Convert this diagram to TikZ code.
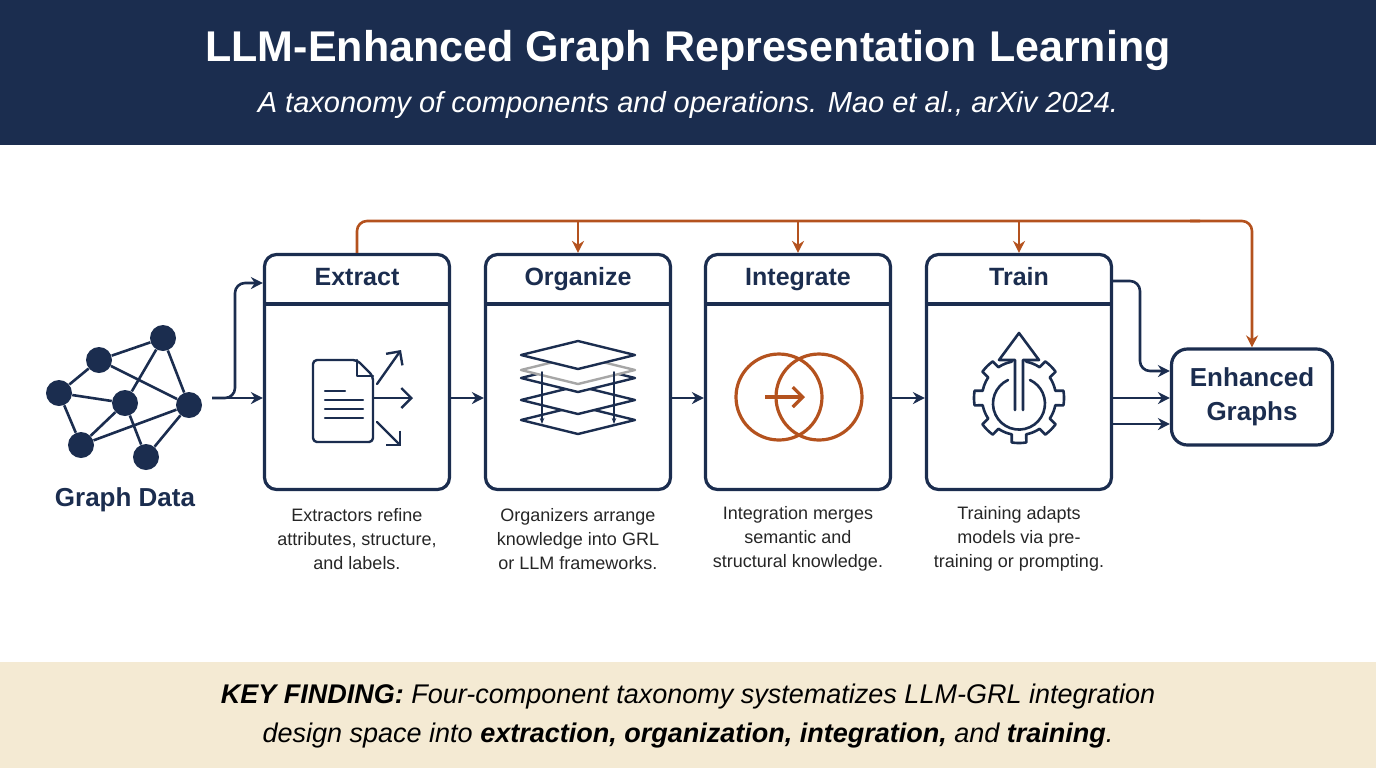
\documentclass[tikz,border=0pt]{standalone}
\usepackage{fontspec}
\setmainfont{Liberation Sans}
\usetikzlibrary{arrows.meta}
\usetikzlibrary{positioning}
\definecolor{navy}{HTML}{1B2D4F}
\definecolor{rust}{HTML}{B4521E}
\definecolor{sand}{HTML}{F4EAD3}
\tikzstyle{stage} = [draw=navy, line width=1.6pt, rounded corners=6pt,
 minimum width=92.5pt, minimum height=117.5pt]
\tikzstyle{header} = [text=navy, font=\fontsize{12.5}{14}\selectfont\bfseries, text height=9pt, text depth=2.5pt]
\tikzstyle{caption} = [text=black!85, align=center, font=\fontsize{9}{12}\selectfont]
\tikzstyle{arrow} = [navy, line width=1.3pt, -{Stealth[length=6pt,width=6pt]}, rounded corners=5pt]
\tikzstyle{feed} = [rust, line width=1.3pt, -{Stealth[length=6pt,width=6pt]}, rounded corners=5pt]
\tikzstyle{icon} = [navy, line width=1.2pt, line join=round, line cap=round]
\tikzstyle{dot} = [circle, fill=navy, inner sep=0pt, minimum size=13pt]

\begin{document}
\begin{tikzpicture}[x=0.5pt, y=-0.5pt]
 	\useasboundingbox (0,0) rectangle (1376,768);
 	
 	% title and key finding bands
 	\fill[navy] (0,0) rectangle (1376,145);
 	\fill[sand] (0,662) rectangle (1376,768);
 	\node [text=white, font=\fontsize{21.5}{24}\selectfont\bfseries] (title) at (688,50) {LLM-Enhanced Graph Representation Learning};
 	\node [text=white, font=\fontsize{14.5}{16}\selectfont\itshape] (sub) at (688,105) {A taxonomy of components and operations. Mao et al., arXiv 2024.};
 	\node [align=center, font=\fontsize{13.5}{19.5}\selectfont\itshape] (key) at (688,716) {\textbf{KEY FINDING:} Four-component taxonomy systematizes LLM-GRL integration\\design space into \textbf{extraction, organization, integration,} and \textbf{training}.};
 	
 	% graph data
 	\foreach \n/\x/\y in {a/59/393, b/99/360, c/163/338, d/125/403, e/189/405, f/81/445, g/146/457}
 	\node [dot] (\n) at (\x,\y) {};
 	\draw [navy, line width=1.3pt] (a) -- (b) (a) -- (f) (a) -- (d) (b) -- (c) (b) -- (e)
 	(c) -- (d) (c) -- (e) (d) -- (f) (d) -- (g) (f) -- (e) (e) -- (g);
 	\node [text=navy, font=\fontsize{13}{15}\selectfont\bfseries] (gd) at (125,500) {Graph Data};
 	
 	% stages
 	\foreach \n/\x/\t in {ext/357/Extract, org/578/Organize, int/798/Integrate, trn/1019/Train} {
 		\node [stage] (\n) at (\x,372) {};
 		\draw [navy, line width=1.6pt] ([yshift=-25.5pt]\n.north west) -- ([yshift=-25.5pt]\n.north east);
 		\node [header] at ([yshift=-13pt]\n.north) {\t};
 	}
 	\node [caption] at (357,539) {Extractors refine\\attributes, structure,\\and labels.};
 	\node [caption] at (578,539) {Organizers arrange\\knowledge into GRL\\or LLM frameworks.};
 	\node [caption] at (798,539) {Integration merges\\semantic and\\structural knowledge.};
 	\node [caption] at (1019,539) {Training adapts\\models via pre-\\training or prompting.};
 	
 	\node [stage, minimum width=80.5pt, minimum height=48pt, rounded corners=8pt, align=center,
 	text=navy, font=\fontsize{13}{17}\selectfont\bfseries] (out) at (1252,397) {Enhanced\\Graphs};
 	
 	% flow arrows
 	\coordinate (src) at (212,398);
 	\draw [arrow] (src) -- (ext.west |- src);
 	\draw [arrow] (src) -| (235,283) -- (ext.west |- 0,283);
 	\draw [arrow] (ext.east |- src) -- (org.west |- src);
 	\draw [arrow] (org.east |- src) -- (int.west |- src);
 	\draw [arrow] (int.east |- src) -- (trn.west |- src);
 	\draw [arrow] (trn.east |- 0,281) -| (1140,371) -- (out.west |- 0,371);
 	\draw [arrow] (trn.east |- src) -- (out.west |- src);
 	\draw [arrow] (trn.east |- 0,424) -- (out.west |- 0,424);
 	
 	% feedback line
 	\draw [feed, -] (ext.north) |- (1200,221);
 	\draw [feed] (1190,221) -| (out.north);
 	\foreach \n in {org, int, trn}
 	\draw [feed] (\n.north |- 0,221) -- (\n.north);
 	
 	% extract icon
 	\draw [icon, rounded corners=2pt] (330,360) -- (357,360) -- (373,376) -- (373,442) -- (313,442) -- (313,360) -- cycle;
 	\draw [icon] (357,360) -- (357,376) -- (373,376);
 	\draw [icon] (325,391) -- (345,391) (325,400) -- (363,400) (325,409) -- (363,409) (325,418) -- (363,418);
 	\draw [icon, -{Straight Barb[length=5pt]}] (377,384) -- (401,350);
 	\draw [icon, -{Straight Barb[length=5pt]}] (373,398) -- (413,398);
 	\draw [icon, -{Straight Barb[length=5pt]}] (377,422) -- (401,446);
 	
 	% organize icon
 	\foreach \y in {420,400,378}
 	\draw [icon, fill=white] (521,\y) -- (578,\y-14) -- (635,\y) -- (578,\y+14) -- cycle;
 	\draw [icon, fill=white, draw=black!35] (521,370) -- (578,356) -- (635,370) -- (578,384) -- cycle;
 	\draw [icon, fill=white] (521,355) -- (578,341) -- (635,355) -- (578,369) -- cycle;
 	\foreach \x in {542,614}
 	\draw [icon, line width=0.8pt, -{Stealth[length=3pt]}] (\x,372) -- (\x,424);
 	
 	% integrate icon
 	\draw [rust, line width=1.6pt] (779,397) circle (43) (819,397) circle (43);
 	\draw [rust, line width=1.6pt, -{Straight Barb[length=5pt]}] (765,397) -- (805,397);
 	
 	% train icon
 	\draw [icon, line width=1.3pt] plot [domain=0:360, samples=193] ({1019+(45-8*(cos(8*\x)>0 ? 0:1))*cos(\x)}, {398+(45-8*(cos(8*\x)>0 ? 0:1))*sin(\x)}) -- cycle;
 	\draw [icon, line width=1.3pt] (1008,380) arc (245:-65:26);
 	\draw [icon, line width=1.3pt, fill=white] (1015,410) -- (1015,360) -- (999,360) -- (1019,333) -- (1039,360) -- (1023,360) -- (1023,410);
 	
\end{tikzpicture}
\end{document}
